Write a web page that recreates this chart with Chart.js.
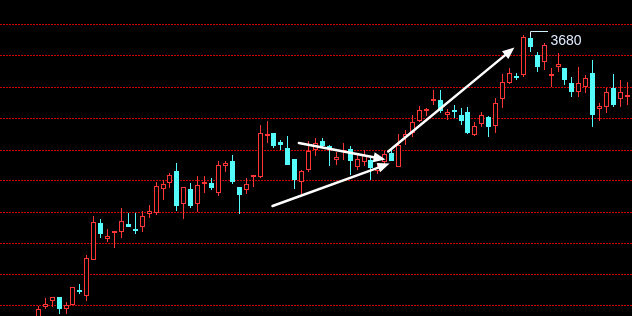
<!DOCTYPE html>
<html>
<head>
<meta charset="utf-8">
<script src="https://cdn.jsdelivr.net/npm/chart.js@4.4.1/dist/chart.umd.min.js"></script>
<style>
html, body { margin: 0; padding: 0; background: #000; overflow: hidden; }
canvas { display: block; }
</style>
</head>
<body>
<canvas id="kline" width="632" height="316"></canvas>
<script>
// daily candles, left to right
const openPrices = [
    3397, 3410, 3416, 3420, 3408, 3412, 3426, 3421, 3457, 3494,
    3478, 3484, 3485, 3493, 3488, 3490, 3503, 3504, 3528, 3534,
    3546, 3513, 3528, 3513, 3533, 3534, 3524, 3551, 3556, 3530,
    3527, 3540, 3540, 3581, 3584, 3575, 3569, 3558, 3535, 3547,
    3567, 3576, 3571, 3557, 3565, 3568, 3550, 3555, 3557, 3546,
    3555, 3564, 3550, 3580, 3584, 3596, 3606, 3616, 3617, 3602,
    3606, 3602, 3605, 3582, 3593, 3600, 3591, 3618, 3634, 3640,
    3642, 3679, 3662, 3655, 3641, 3650, 3649, 3634, 3625, 3630,
    3644, 3608, 3610, 3629, 3618, 3620
];
const closePrices = [
    3408, 3413, 3420, 3408, 3412, 3430, 3425, 3459, 3495, 3483,
    3481, 3485, 3496, 3490, 3486, 3501, 3506, 3531, 3533, 3542,
    3511, 3530, 3511, 3532, 3534, 3529, 3552, 3554, 3535, 3522,
    3533, 3541, 3584, 3582, 3571, 3572, 3552, 3537, 3546, 3566,
    3574, 3571, 3569, 3560, 3567, 3556, 3558, 3562, 3549, 3549,
    3563, 3556, 3572, 3583, 3595, 3607, 3607, 3617, 3606, 3605,
    3605, 3596, 3584, 3591, 3602, 3590, 3614, 3635, 3644, 3639,
    3680, 3670, 3650, 3672, 3642, 3653, 3637, 3625, 3634, 3639,
    3602, 3611, 3625, 3612, 3625, 3621
];
const highPrices = [
    3411, 3419, 3420, 3420, 3415, 3430, 3433, 3462, 3501, 3498,
    3488, 3486, 3509, 3504, 3504, 3506, 3512, 3535, 3537, 3544,
    3554, 3530, 3534, 3541, 3541, 3539, 3556, 3556, 3562, 3530,
    3539, 3541, 3592, 3596, 3584, 3577, 3581, 3558, 3547, 3576,
    3579, 3579, 3572, 3565, 3574, 3571, 3562, 3567, 3559, 3553,
    3566, 3567, 3583, 3587, 3602, 3611, 3609, 3627, 3627, 3608,
    3612, 3609, 3610, 3595, 3605, 3601, 3619, 3643, 3649, 3644,
    3682, 3680, 3665, 3674, 3649, 3664, 3649, 3640, 3650, 3642,
    3657, 3614, 3629, 3643, 3637, 3635
];
const lowPrices = [
    3395, 3408, 3410, 3403, 3403, 3412, 3423, 3416, 3457, 3479,
    3475, 3469, 3479, 3490, 3483, 3485, 3499, 3502, 3517, 3529,
    3506, 3498, 3509, 3505, 3524, 3527, 3521, 3545, 3533, 3503,
    3523, 3530, 3539, 3574, 3569, 3567, 3552, 3528, 3523, 3545,
    3561, 3569, 3551, 3552, 3557, 3542, 3547, 3551, 3537, 3543,
    3553, 3556, 3550, 3572, 3580, 3595, 3601, 3612, 3604, 3597,
    3599, 3592, 3583, 3581, 3590, 3580, 3584, 3609, 3633, 3637,
    3640, 3665, 3645, 3647, 3630, 3645, 3632, 3620, 3620, 3624,
    3590, 3596, 3604, 3610, 3610, 3612
];

// price levels of the dotted guide lines
const gridLevels = [3692, 3661, 3630, 3599, 3567, 3536, 3505, 3474, 3443, 3412];

// hand drawn arrows: [candle index, price]
const arrowTails = [[33.8, 3511], [37.6, 3574], [50.5, 3565.5]];
const arrowTips = [[50.7, 3553.5], [50.1, 3557.5], [68.7, 3669.5]];

// marked top
const peakIndex = 71;

const UP = "#ff3636";
const DOWN = "#54fcfc";

const wickData = [];
const bodyData = [];
const wickColors = [];
const bodyFill = [];
const bodyBorder = [];

openPrices.forEach((open, i) => {

    const close = closePrices[i];
    const rising = close >= open;
    const color = rising ? UP : DOWN;

    let lo = Math.min(open, close);
    let hi = Math.max(open, close);

    // doji: keep a visible cross bar
    if (hi - lo < 2) {
        const mid = Math.round((hi + lo) / 2);
        lo = mid - 1;
        hi = mid + 1;
    }

    wickData.push({ x: i, y: [lowPrices[i], highPrices[i]] });
    bodyData.push({ x: i, y: [lo, hi] });

    wickColors.push(color);
    bodyFill.push(rising ? "#000000" : DOWN);
    bodyBorder.push(color);

});

const paintBackground = {
    id: "paintBackground",
    beforeDraw(chart) {
        const ctx = chart.ctx;
        ctx.save();
        ctx.fillStyle = "#000";
        ctx.fillRect(0, 0, chart.width, chart.height);
        ctx.restore();
    }
};

// put every candle on a whole pixel column so the 1px lines stay sharp
const snapCandles = {
    id: "snapCandles",
    beforeDatasetsDraw(chart) {
        chart.data.datasets.forEach((ds, d) => {
            chart.getDatasetMeta(d).data.forEach((bar) => {
                bar.x = Math.floor(bar.x) + 0.5;
            });
        });
    }
};

const marks = {
    id: "marks",
    afterDatasetsDraw(chart) {

        const ctx = chart.ctx;
        const xs = chart.scales.x;
        const ys = chart.scales.y;

        ctx.save();

        // arrows
        ctx.strokeStyle = "#ffffff";
        ctx.fillStyle = "#ffffff";
        ctx.lineWidth = 2.5;
        ctx.lineCap = "round";

        arrowTails.forEach((tail, k) => {

            const tip = arrowTips[k];
            const x1 = xs.getPixelForValue(tail[0]);
            const y1 = ys.getPixelForValue(tail[1]);
            const x2 = xs.getPixelForValue(tip[0]);
            const y2 = ys.getPixelForValue(tip[1]);

            const ang = Math.atan2(y2 - y1, x2 - x1);
            const headLen = 12;
            const headHalf = 5;
            const bx = x2 - Math.cos(ang) * headLen;
            const by = y2 - Math.sin(ang) * headLen;

            ctx.beginPath();
            ctx.moveTo(x1, y1);
            ctx.lineTo(bx, by);
            ctx.stroke();

            ctx.beginPath();
            ctx.moveTo(x2, y2);
            ctx.lineTo(bx + Math.sin(ang) * headHalf, by - Math.cos(ang) * headHalf);
            ctx.lineTo(bx - Math.sin(ang) * headHalf, by + Math.cos(ang) * headHalf);
            ctx.closePath();
            ctx.fill();

        });

        // top marker
        const px = Math.floor(xs.getPixelForValue(peakIndex)) + 0.5;
        const py = Math.round(ys.getPixelForValue(highPrices[peakIndex]));

        ctx.strokeStyle = "#d0ecf8";
        ctx.lineWidth = 1;
        ctx.lineCap = "butt";
        ctx.beginPath();
        ctx.moveTo(px, py);
        ctx.lineTo(px, py - 5.5);
        ctx.lineTo(px + 17.5, py - 5.5);
        ctx.stroke();

        ctx.fillStyle = "#e2ebff";
        ctx.font = "14px 'Liberation Sans', Arial, sans-serif";
        ctx.textBaseline = "alphabetic";
        ctx.fillText(String(highPrices[peakIndex]), px + 20, py + 8);

        ctx.restore();

    }
};

new Chart(document.getElementById("kline"), {

    type: "bar",

    data: {

        datasets: [

            {
                label: "body",
                data: bodyData,
                backgroundColor: bodyFill,
                borderColor: bodyBorder,
                borderWidth: 1,
                borderSkipped: false,
                barThickness: 5,
                inflateAmount: 0,
                grouped: false,
                order: 0
            },

            {
                label: "wick",
                data: wickData,
                backgroundColor: wickColors,
                borderWidth: 0,
                barThickness: 1,
                inflateAmount: 0,
                grouped: false,
                order: 1
            }

        ]

    },

    options: {

        responsive: false,
        animation: false,
        events: [],
        layout: { padding: 0 },

        plugins: {
            legend: { display: false },
            tooltip: { enabled: false }
        },

        scales: {

            x: {
                type: "linear",
                min: -5.53,
                max: 85.67,
                offset: false,
                display: false
            },

            y: {
                min: 3401,
                max: 3717,
                afterBuildTicks(scale) {
                    scale.ticks = gridLevels.map((v) => ({ value: v }));
                },
                ticks: { display: false },
                border: { display: false, dash: [2, 1] },
                grid: {
                    color: "#d00000",
                    lineWidth: 1,
                    drawTicks: false
                }
            }

        }

    },

    plugins: [paintBackground, snapCandles, marks]

});
</script>
</body>
</html>
